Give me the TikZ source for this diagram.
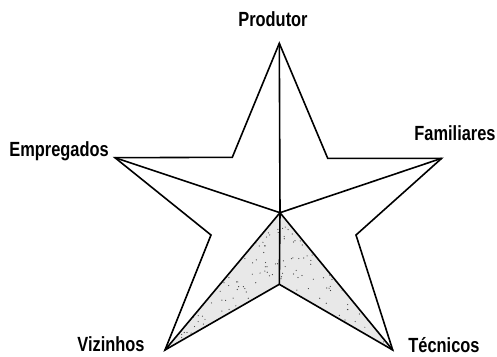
\documentclass[tikz,border=0pt]{standalone}
\usepackage{fontspec}
\setmainfont{Liberation Sans}[FakeStretch=0.8]
\begin{document}
\begin{tikzpicture}[x=1pt,y=-1pt,
  lbl/.style={font=\bfseries\fontsize{20.5}{24}\selectfont, inner sep=0pt},
  edge/.style={line width=1.6pt, line join=miter},
  shade/.style={fill=black!9}]
\useasboundingbox (0,0) rectangle (497,356);
% star points
\coordinate (T) at (279.3,43.3);
\coordinate (R) at (441.7,158.3);
\coordinate (L) at (115,157.7);
\coordinate (BL) at (165,350);
\coordinate (BR) at (392.7,350);
\coordinate (C) at (280,212.7);
% inner vertices
\coordinate (iUR) at (327.7,158.3);
\coordinate (iR) at (356,235);
\coordinate (iB) at (279.3,284.3);
\coordinate (iL) at (211,235);
\coordinate (iUL) at (232.3,157.3);
% shaded region
\fill[shade] (C) -- (BL) -- (iB) -- (BR) -- cycle;
\begin{scope}
  \clip (C) -- (BL) -- (iB) -- (BR) -- cycle;
  \pgfmathsetseed{7}
  \foreach \i in {1,...,420} {
    \pgfmathsetmacro{\px}{165+rnd*228}
    \pgfmathsetmacro{\py}{212+rnd*138}
    \fill[black!75] (\px,\py) circle (0.6);
  }
\end{scope}
% outline
\draw[edge] (T) -- (iUR) -- (R) -- (iR) -- (BR) -- (iB) -- (BL) -- (iL) -- (L) -- (iUL) -- cycle;
% inner lines
\draw[edge] (T) -- (C);
\draw[edge] (C) -- (iB);
\draw[edge] (L) -- (C) -- (R);
\draw[edge] (BL) -- (C) -- (BR);
% labels
\node[lbl] (produtor) at (273,19.5) {Produtor};
\node[lbl] (empregados) at (59,151) {Empregados};
\node[lbl] (familiares) at (455,133) {Familiares};
\node[lbl] (vizinhos) at (111,344) {Vizinhos};
\node[lbl] (tecnicos) at (444,345) {Técnicos};
\end{tikzpicture}
\end{document}
